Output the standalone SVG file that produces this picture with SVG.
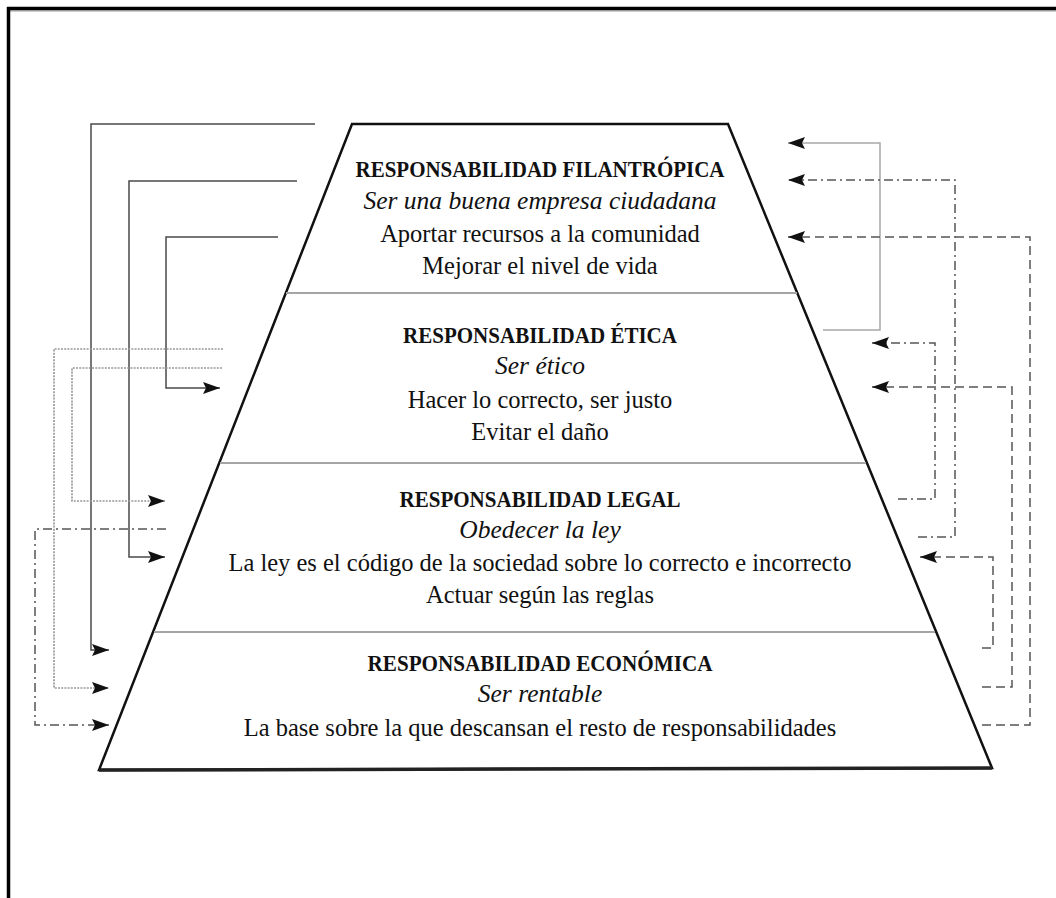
<svg xmlns="http://www.w3.org/2000/svg" width="1056" height="898" viewBox="0 0 1056 898">
<style>
.t{font-family:"Liberation Serif","Times New Roman",serif;fill:#111;text-anchor:middle}
.b{font-weight:bold;font-size:23px}
.i{font-style:italic;font-size:25.5px}
.r{font-size:24.5px}
.c{fill:none;stroke-width:1.5;marker-end:url(#ah)}
.solid{stroke:#4a4a4a}
.light{stroke:#a8a8a8}
.dot{stroke:#999;stroke-dasharray:2 1.2;stroke-width:1.7}
.dd{stroke:#555;stroke-dasharray:9 4 2 4}
.dash{stroke:#555;stroke-dasharray:9 5}
.div{stroke:#a5a5a5;stroke-width:2}
</style>
<defs>
<marker id="ah" markerUnits="userSpaceOnUse" markerWidth="17" markerHeight="12" viewBox="0 0 17 12" refX="17" refY="6" orient="auto">
<path d="M0,0 L17,6 L0,12 L3,6 z" fill="#111"/>
</marker>
</defs>
<rect width="1056" height="898" fill="#fff"/>
<g id="frame">
<line x1="10" y1="11" x2="1056" y2="11" stroke="#999" stroke-width="1"/>
<line x1="7" y1="8.5" x2="1056" y2="8.5" stroke="#000" stroke-width="3.5"/>
<line x1="8.5" y1="7" x2="8.5" y2="898" stroke="#000" stroke-width="3.5"/>
</g>
<g id="pyramid">
<polygon points="352,124 728,124 992,768 99,770" fill="#fff" stroke="#111" stroke-width="2.5" stroke-linejoin="miter"/>
<line x1="99" y1="770" x2="992" y2="768" stroke="#222" stroke-width="3.5"/>
<line class="div" x1="286" y1="293" x2="797" y2="293"/>
<line class="div" x1="220" y1="463" x2="866" y2="463"/>
<line class="div" x1="154" y1="632" x2="935" y2="632"/>
</g>
<g id="filantropica">
<text class="t b" x="540" y="177" textLength="369" lengthAdjust="spacingAndGlyphs">RESPONSABILIDAD FILANTRÓPICA</text>
<text class="t i" x="540" y="209">Ser una buena empresa ciudadana</text>
<text class="t r" x="540" y="242">Aportar recursos a la comunidad</text>
<text class="t r" x="540" y="274">Mejorar el nivel de vida</text>
</g>
<g id="etica">
<text class="t b" x="540" y="343" textLength="274" lengthAdjust="spacingAndGlyphs">RESPONSABILIDAD ÉTICA</text>
<text class="t i" x="540" y="374">Ser ético</text>
<text class="t r" x="540" y="408">Hacer lo correcto, ser justo</text>
<text class="t r" x="540" y="440">Evitar el daño</text>
</g>
<g id="legal">
<text class="t b" x="540" y="507" textLength="281" lengthAdjust="spacingAndGlyphs">RESPONSABILIDAD LEGAL</text>
<text class="t i" x="540" y="538">Obedecer la ley</text>
<text class="t r" x="540" y="571">La ley es el código de la sociedad sobre lo correcto e incorrecto</text>
<text class="t r" x="540" y="603">Actuar según las reglas</text>
</g>
<g id="economica">
<text class="t b" x="540" y="671" textLength="345" lengthAdjust="spacingAndGlyphs">RESPONSABILIDAD ECONÓMICA</text>
<text class="t i" x="540" y="702">Ser rentable</text>
<text class="t r" x="540" y="736">La base sobre la que descansan el resto de responsabilidades</text>
</g>
<g id="connectors">
<path class="c solid" d="M315,124 H91 V650 H109"/>
<path class="c solid" d="M297,181 H129 V557 H165"/>
<path class="c solid" d="M278,237 H166 V388 H220"/>
<path class="c dot" d="M223,349 H54 V688 H109"/>
<path class="c dot" d="M222,368 H72 V501 H165"/>
<path class="c dd" d="M166,529 H35 V725 H109"/>
<path class="c light" d="M823,330 H880 V143 H788"/>
<path class="c dd" d="M918,537 H955 V180 H788"/>
<path class="c dash" d="M982,725 H1030 V237 H788"/>
<path class="c dd" d="M898,499 H935 V343 H872"/>
<path class="c dash" d="M982,687 H1012 V387 H872"/>
<path class="c dash" d="M982,648 H993 V557 H920"/>
</g>
</svg>
